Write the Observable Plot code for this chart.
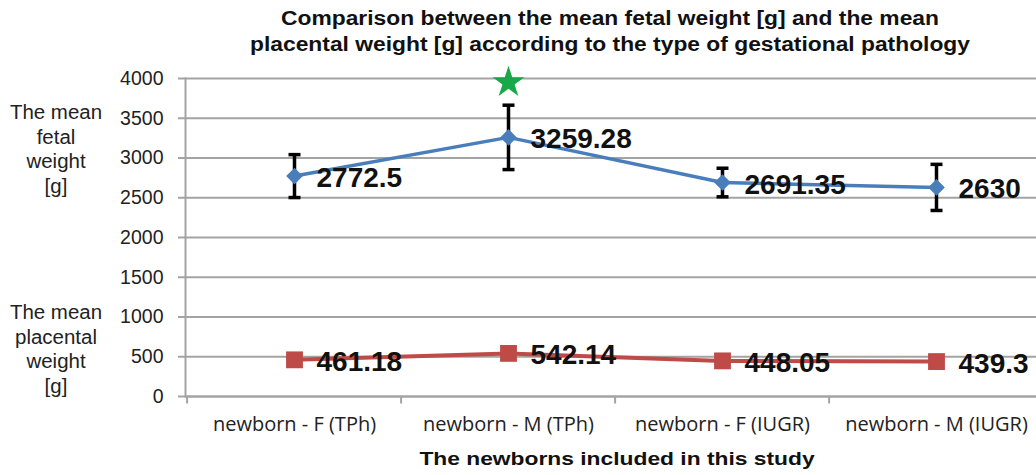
<!DOCTYPE html>
<html>
<head>
<meta charset="utf-8">
<script src="https://cdn.jsdelivr.net/npm/d3@7"></script>
<script src="https://cdn.jsdelivr.net/npm/@observablehq/plot@0.6"></script>
<style>
  html, body { margin: 0; padding: 0; background: #fff; overflow: hidden; }
  #wrap { position: relative; width: 1036px; height: 475px; }
  #chart { position: absolute; left: 0; top: 0; }
  .title { position: absolute; left: 110px; width: 1000px; top: 5px; text-align: center;
           font-family: "Liberation Sans", Arial, sans-serif; font-weight: bold; font-size: 19.5px; line-height: 26px; color: #111;
           transform: scaleX(1.17); transform-origin: 50% 50%; }
  .ytitle { position: absolute; left: 0; width: 112px; text-align: center;
            font-family: "Liberation Sans", Arial, sans-serif; font-size: 19.5px; line-height: 24.5px; color: #222;
            transform: scaleX(1.05); transform-origin: 50% 50%; }
  .xtitle { position: absolute; left: 117px; width: 1000px; top: 447px; text-align: center;
            font-family: "Liberation Sans", Arial, sans-serif; font-weight: bold; font-size: 19px; line-height: 24px; color: #111;
            transform: scaleX(1.2); transform-origin: 50% 50%; }
</style>
</head>
<body>
<div id="wrap">
  <div id="chart"></div>
  <div class="title">Comparison between the mean fetal weight [g] and the mean<br>placental weight [g] according to the type of gestational pathology</div>
  <div class="ytitle" style="top:100px">The mean<br>fetal<br>weight<br>[g]</div>
  <div class="ytitle" style="top:300px">The mean<br>placental<br>weight<br>[g]</div>
  <div class="xtitle">The newborns included in this study</div>
</div>
<script>
const categories = ["newborn - F (TPh)", "newborn - M (TPh)", "newborn - F (IUGR)", "newborn - M (IUGR)"];
const fetalMean = [2772.5, 3259.28, 2691.35, 2630];
const fetalErr = [270, 405, 180, 290];
const placentalMean = [461.18, 542.14, 448.05, 439.3];
const yTicks = [0, 500, 1000, 1500, 2000, 2500, 3000, 3500, 4000];
const starCategory = "newborn - M (TPh)";
const starValue = 3950;

const fetal = categories.map((c, i) => ({cat: c, v: fetalMean[i], e: fetalErr[i]}));
const placental = categories.map((c, i) => ({cat: c, v: placentalMean[i]}));
const star = [{cat: starCategory, v: starValue}];

const blue = "#4a7ebb", red = "#be4b48", green = "#17a84a", grid = "#a3a3a3";
const capSymbol = {draw(ctx) { ctx.moveTo(-6, 0); ctx.lineTo(6, 0); }};
const tickSymbol = {draw(ctx) { ctx.moveTo(0, 0); ctx.lineTo(0, 7); }};
const labelFont = {fontSize: 28, fontWeight: "bold", fontFamily: "Liberation Sans, Arial, sans-serif", fill: "#111", textAnchor: "start", dx: 22, dy: 2};

const chart = Plot.plot({
  width: 1036,
  height: 475,
  marginTop: 78,
  marginBottom: 79,
  marginLeft: 185,
  marginRight: 0,
  x: {type: "point", domain: categories, range: [185, 1044], padding: 0.5},
  y: {domain: [0, 4000]},
  style: {background: "transparent"},
  marks: [
    Plot.gridY(yTicks, {stroke: grid, strokeOpacity: 1, strokeWidth: 2}),
    Plot.frame({anchor: "left", stroke: grid, strokeWidth: 2}),
    Plot.ruleY([0], {stroke: grid, strokeWidth: 2}),
    Plot.axisY({ticks: yTicks, tickFormat: d => String(d), tickSize: 7, tickPadding: 15, stroke: grid, strokeWidth: 2,
      fontSize: 19.5, fontFamily: "Liberation Sans, Arial, sans-serif", fill: "#222", label: null}),
    Plot.axisX({tickSize: 0, tickPadding: 20, fontSize: 20, fontFamily: "Open Sans, sans-serif", fill: "#222", label: null}),
    Plot.dot(categories, {x: d => d, y: () => 0, symbol: tickSymbol, stroke: grid, strokeWidth: 2, dx: -107.4}),
    Plot.ruleX(fetal, {x: "cat", y1: d => d.v - d.e, y2: d => d.v + d.e, stroke: "#000", strokeWidth: 3.5}),
    Plot.dot(fetal, {x: "cat", y: d => d.v - d.e, symbol: capSymbol, stroke: "#000", strokeWidth: 3.5}),
    Plot.dot(fetal, {x: "cat", y: d => d.v + d.e, symbol: capSymbol, stroke: "#000", strokeWidth: 3.5}),
    Plot.line(fetal, {x: "cat", y: "v", stroke: blue, strokeWidth: 3.5}),
    Plot.dot(fetal, {x: "cat", y: "v", symbol: "diamond2", r: 7.5, fill: blue, stroke: null}),
    Plot.line(placental, {x: "cat", y: "v", stroke: red, strokeWidth: 4}),
    Plot.dot(placental, {x: "cat", y: "v", symbol: "square", r: 9.5, fill: red, stroke: null}),
    Plot.dot(star, {x: "cat", y: "v", symbol: "star", r: 10, fill: green, stroke: null}),
    Plot.text(fetal, {x: "cat", y: "v", text: d => String(d.v), ...labelFont}),
    Plot.text(placental, {x: "cat", y: "v", text: d => String(d.v), ...labelFont})
  ]
});
document.getElementById("chart").appendChild(chart);
</script>
</body>
</html>
